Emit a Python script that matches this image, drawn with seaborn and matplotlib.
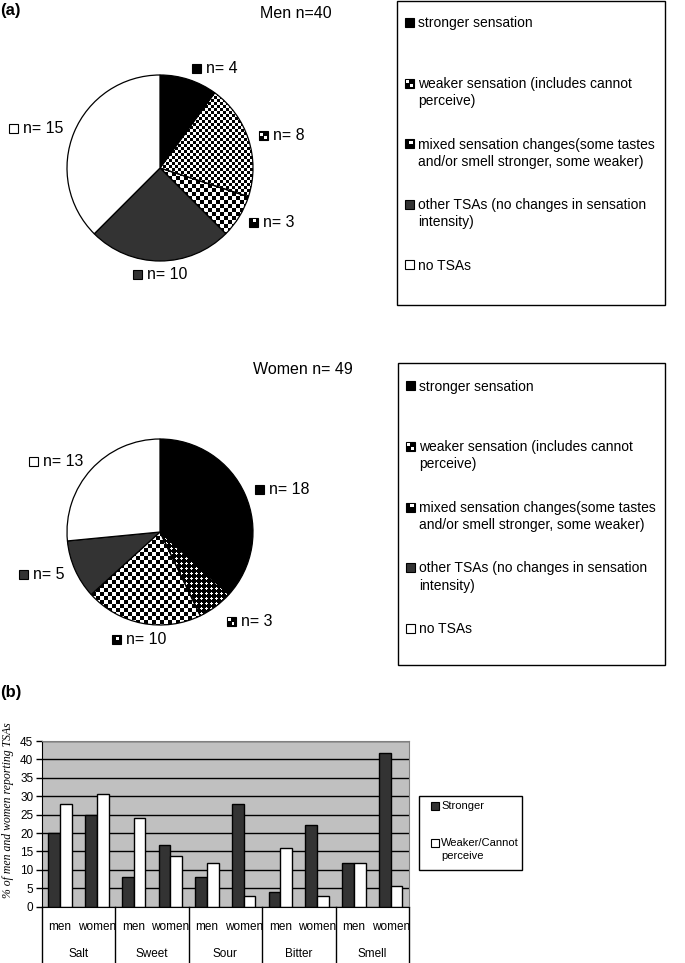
import numpy as np
import pandas as pd
import matplotlib
matplotlib.use("Agg")
import matplotlib.pyplot as plt
import matplotlib.transforms as mtransforms
from matplotlib.patches import Rectangle
import seaborn as sns

# ---- data ----
pie_kinds = ["stronger", "weaker", "mixed", "other", "none"]
pie_categories = ["stronger sensation",
                  "weaker sensation (includes cannot\nperceive)",
                  "mixed sensation changes(some tastes\nand/or smell stronger, some weaker)",
                  "other TSAs (no changes in sensation\nintensity)",
                  "no TSAs"]
men_counts = [4, 8, 3, 10, 15]
women_counts = [18, 3, 10, 5, 13]
men_title = "Men n=40"
women_title = "Women n= 49"

tastes = ["Salt", "Sweet", "Sour", "Bitter", "Smell"]
sexes = ["men", "women"]
measures = ["Stronger", "Weaker/Cannot perceive"]
stronger_pct = [20, 25, 8, 16.7, 8, 27.8, 4, 22.2, 12, 41.7]
weaker_pct = [28, 30.6, 24, 13.9, 12, 2.8, 16, 2.8, 12, 5.6]
y_ticks = [0, 5, 10, 15, 20, 25, 30, 35, 40, 45]

sans = ["Liberation Sans", "DejaVu Sans"]
fills = {"stronger": "black", "weaker": "white", "mixed": "white",
         "other": "#333333", "none": "white"}

W, H = 685, 963
fig = plt.figure(figsize=(W / 100, H / 100), dpi=100)
bx = fig.add_axes([41.7 / W, (H - 906.7) / H, 367.3 / W, 165.7 / H])
ov = fig.add_axes([0, 0, 1, 1])
ov.patch.set_visible(False)
renderer = fig.canvas.get_renderer()


def checker(n, cell):
    i, j = np.indices((n, n))
    return ((i // cell + j // cell) % 2).astype(float)


def dots(n, period=5):
    i, j = np.indices((n, n)) % period
    return (((i == 2) & (j >= 1) & (j <= 3)) | ((j == 2) & (i >= 1) & (i <= 3))).astype(float)


def draw_icon(x, y, kind, s=9):
    ov.add_patch(Rectangle((x, y), s, s, facecolor=fills[kind] if kind in ("stronger", "other", "none") else "black",
                           edgecolor="black", lw=0.8))
    if kind == "weaker":
        q = s * 0.32
        ov.add_patch(Rectangle((x + s * 0.15, y + s * 0.15), q, q, facecolor="white", lw=0))
        ov.add_patch(Rectangle((x + s * 0.53, y + s * 0.53), q, q, facecolor="white", lw=0))
    elif kind == "mixed":
        ov.add_patch(Rectangle((x + s * 0.5, y + s * 0.15), s * 0.35, s * 0.35, facecolor="white", lw=0))


def draw_pie(counts, cx, cy, r, textures, dist):
    wedges, _ = ov.pie(counts, center=(cx, cy), radius=r, startangle=-90, counterclock=True,
                       colors=[fills[k] for k in pie_kinds], frame=True,
                       wedgeprops=dict(edgecolor="black", linewidth=0.9))
    for w, k, c, dd in zip(wedges, pie_kinds, counts, dist):
        if k in textures:
            w.set_facecolor("none")
            n = int(2 * r + 6)
            im = ov.imshow(textures[k](n), cmap="gray", vmin=0, vmax=1, interpolation="nearest",
                           extent=(cx - n / 2, cx + n / 2, cy + n / 2, cy - n / 2), zorder=0.9)
            im.set_clip_path(w)
        mid = np.deg2rad((w.theta1 + w.theta2) / 2)
        d = r * dd
        px, py = cx + d * np.cos(mid), cy + d * np.sin(mid)
        t = ov.text(px, py, f"n= {c}", fontsize=11.5, family=sans, ha="left", va="center")
        tw = t.get_window_extent(renderer).width
        s, gap = 9, 5
        gw = s + gap + tw
        if np.cos(mid) > 0.3:
            gl = px
        elif np.cos(mid) < -0.3:
            gl = px - gw
        else:
            gl = px - gw / 2
        draw_icon(gl, py - s / 2, k, s)
        t.set_position((gl + s + gap, py))


def draw_legend_box(x0, y0, x1, y1, first_y, step):
    ov.add_patch(Rectangle((x0, y0), x1 - x0, y1 - y0, facecolor="none", edgecolor="black", lw=1))
    for i, (k, lbl) in enumerate(zip(pie_kinds, pie_categories)):
        yc = first_y + i * step
        draw_icon(x0 + 8, yc - 4.5, k)
        ov.text(x0 + 21, yc - 6.5, lbl, fontsize=10, family=sans, ha="left", va="top",
                linespacing=1.3)


# ---- (a) pies ----
ov.text(0, 11, "(a)", fontsize=12, fontweight="bold", family=sans, ha="left", va="center")
ov.text(296, 14, men_title, fontsize=11.5, family=sans, ha="center", va="center")
draw_pie(men_counts, 160, 168, 93, {"weaker": lambda n: checker(n, 3), "mixed": lambda n: checker(n, 4)},
         [1.12, 1.12, 1.12, 1.14, 1.12])
draw_legend_box(397, 1, 665, 305, 23, 60.5)

ov.text(303, 369, women_title, fontsize=11.5, family=sans, ha="center", va="center")
draw_pie(women_counts, 160, 532, 93, {"weaker": dots, "mixed": lambda n: checker(n, 4)},
         [1.12, 1.2, 1.18, 1.12, 1.12])
draw_legend_box(398, 363, 665, 665, 386, 60.6)

# ---- (b) bars ----
ov.text(0, 693, "(b)", fontsize=12, fontweight="bold", family=sans, ha="left", va="center")

rows = []
for i, t in enumerate(tastes):
    for j, s in enumerate(sexes):
        k = 2 * i + j
        rows.append((t, s, f"{t} {s}", measures[0], stronger_pct[k]))
        rows.append((t, s, f"{t} {s}", measures[1], weaker_pct[k]))
df = pd.DataFrame(rows, columns=["taste", "sex", "slot", "measure", "pct"])
slot_order = list(dict.fromkeys(df["slot"]))

sns.barplot(data=df, x="slot", y="pct", hue="measure", order=slot_order, hue_order=measures,
            palette={measures[0]: "#333333", measures[1]: "white"}, width=0.64, gap=0,
            edgecolor="black", linewidth=1, saturation=1, legend=False, errorbar=None, ax=bx)

bx.set_facecolor("#c0c0c0")
bx.set_xlim(-0.5, 9.5)
bx.set_ylim(0, 45)
bx.set_yticks(y_ticks)
bx.yaxis.grid(True, color="black", lw=1)
bx.set_axisbelow(True)
bx.set_xticks(range(len(slot_order)))
bx.set_xticklabels([s for t in tastes for s in sexes], fontsize=8.5, family=sans)
for lbl in bx.get_yticklabels():
    lbl.set_family(sans)
bx.tick_params(axis="x", length=0, pad=10)
bx.tick_params(axis="y", length=4, width=1, pad=2, labelsize=8.5)
bx.set_xlabel("")
bx.set_ylabel("% of men and women reporting TSAs", fontsize=8.5, family="Liberation Serif", style="italic")
bx.yaxis.set_label_coords(-0.0754, 0.584)
for sp in ["top", "right"]:
    bx.spines[sp].set_color("#808080")

trans = mtransforms.blended_transform_factory(bx.transData, bx.transAxes)
for i, t in enumerate(tastes):
    bx.text(2 * i + 0.5, -0.285, t, transform=trans, ha="center", va="center", fontsize=8.5, family=sans)
for b in np.arange(-0.5, 10, 2):
    bx.plot([b, b], [0, -0.35], transform=trans, color="black", lw=1, clip_on=False)

# bar legend
ov.add_patch(Rectangle((419, 796), 103, 74, facecolor="white", edgecolor="black", lw=1))
for lbl, col, yc in zip(["Stronger", "Weaker/Cannot\nperceive"], ["#333333", "white"], [807, 844]):
    ov.add_patch(Rectangle((431, yc - 4.5), 8, 8, facecolor=col, edgecolor="black", lw=0.8))
    ov.text(441, yc - 6, lbl, fontsize=8, family=sans, ha="left", va="top", linespacing=1.35)

ov.set_aspect("auto")
ov.set_xlim(0, W)
ov.set_ylim(H, 0)
ov.axis("off")

fig.savefig("out.png", dpi=100)
